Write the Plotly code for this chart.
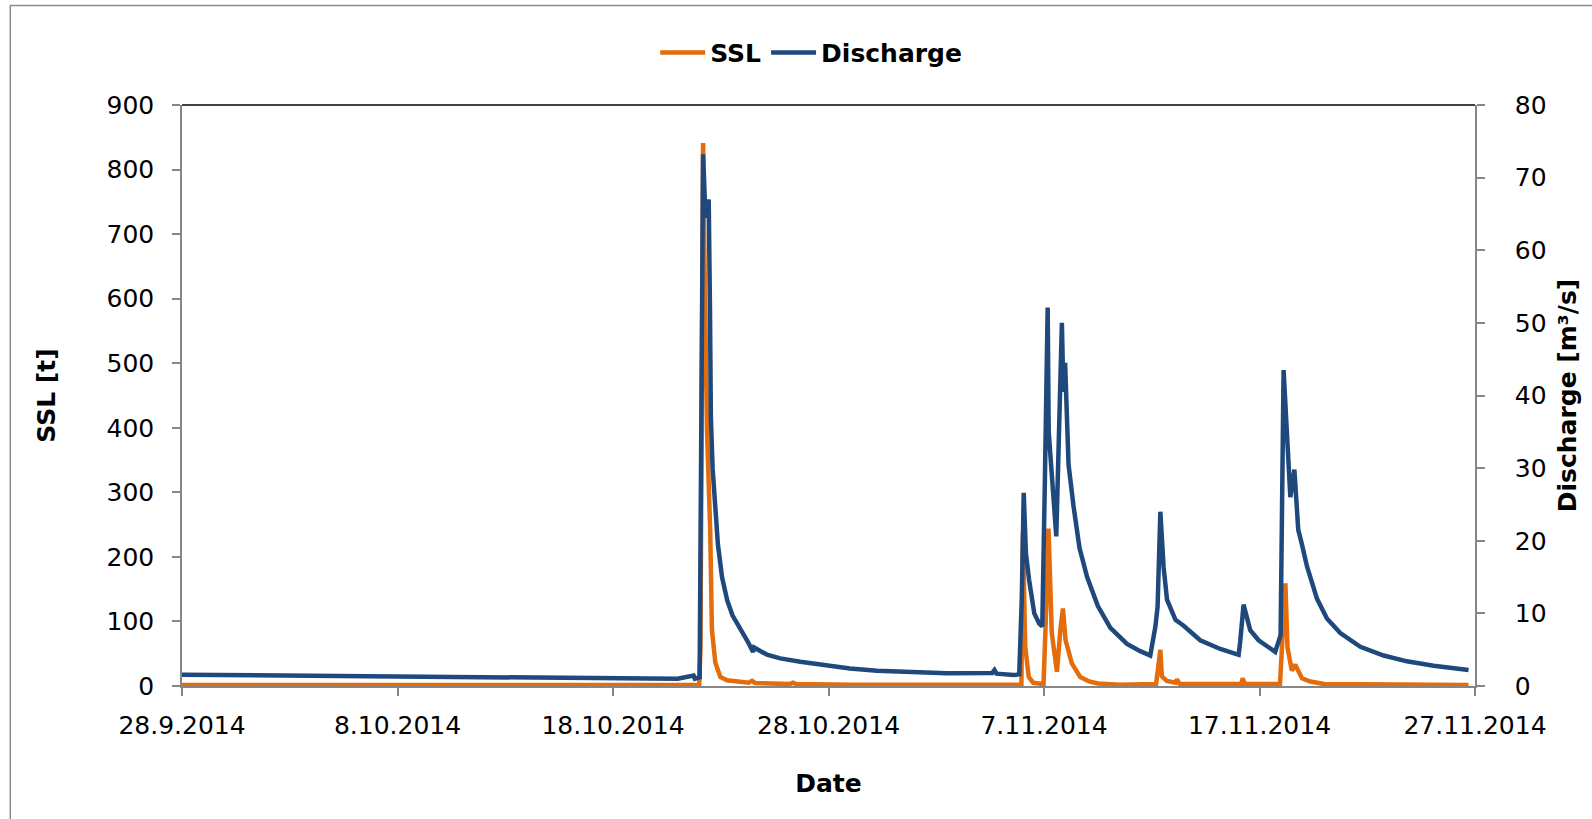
import plotly.graph_objects as go

# ---- Discharge [m3/s] ----
q_dates = [
    "2014-09-28 00:00", "2014-09-30 00:00", "2014-10-03 00:00", "2014-10-06 00:00",
    "2014-10-08 00:00", "2014-10-11 00:00", "2014-10-14 00:00", "2014-10-17 00:00",
    "2014-10-19 00:00", "2014-10-21 00:00", "2014-10-21 17:45", "2014-10-21 19:10",
    "2014-10-22 00:30", "2014-10-22 02:25", "2014-10-22 04:20", "2014-10-22 07:00",
    "2014-10-22 10:35", "2014-10-22 12:00", "2014-10-22 13:00", "2014-10-22 14:55",
    "2014-10-22 17:45", "2014-10-22 20:50", "2014-10-23 01:25", "2014-10-23 07:10",
    "2014-10-23 13:10", "2014-10-23 20:00", "2014-10-24 05:15", "2014-10-24 12:00",
    "2014-10-24 13:10", "2014-10-25 03:35", "2014-10-25 18:15", "2014-10-26 16:35",
    "2014-10-27 18:30", "2014-10-29 00:00", "2014-10-30 06:00", "2014-10-31 07:10",
    "2014-11-02 12:00", "2014-11-04 14:25", "2014-11-04 16:50", "2014-11-04 19:10",
    "2014-11-05 14:25", "2014-11-05 20:25", "2014-11-05 23:15", "2014-11-06 01:25",
    "2014-11-06 03:50", "2014-11-06 07:25", "2014-11-06 13:10", "2014-11-06 18:40",
    "2014-11-06 22:05", "2014-11-07 01:00", "2014-11-07 04:05", "2014-11-07 05:15",
    "2014-11-07 13:40", "2014-11-07 19:55", "2014-11-07 21:35", "2014-11-07 23:30",
    "2014-11-08 03:20", "2014-11-08 08:50", "2014-11-08 15:35", "2014-11-09 00:00",
    "2014-11-09 12:00", "2014-11-10 01:55", "2014-11-10 20:25", "2014-11-11 11:15",
    "2014-11-11 22:20", "2014-11-12 04:05", "2014-11-12 06:30", "2014-11-12 09:35",
    "2014-11-12 13:10", "2014-11-12 17:00", "2014-11-13 02:25", "2014-11-13 11:30",
    "2014-11-14 06:00", "2014-11-15 04:20", "2014-11-16 00:45", "2014-11-16 02:25",
    "2014-11-16 06:15", "2014-11-16 13:40", "2014-11-16 23:00", "2014-11-17 17:30",
    "2014-11-17 23:30", "2014-11-18 02:50", "2014-11-18 06:40", "2014-11-18 10:20",
    "2014-11-18 14:50", "2014-11-18 19:10", "2014-11-18 23:15", "2014-11-19 04:50",
    "2014-11-19 16:05", "2014-11-20 03:05", "2014-11-20 18:00", "2014-11-21 16:20",
    "2014-11-22 18:15", "2014-11-23 20:10", "2014-11-25 01:55", "2014-11-26 16:50",
]
q_values = [
    1.55, 1.5, 1.45, 1.38,
    1.3, 1.25, 1.2, 1.12,
    1.05, 1.0, 1.45, 1.0,
    1.2, 30.0, 73.2, 64.5,
    67.0, 52.0, 37.0, 30.0,
    24.0, 19.5, 15.0, 11.8,
    9.7, 8.3, 6.3, 4.7,
    5.3, 4.3, 3.8, 3.35,
    2.9, 2.4, 2.1, 2.0,
    1.75, 1.8, 2.2, 1.7,
    1.5, 1.6, 12.0, 26.6,
    18.3, 14.6, 10.0, 8.6,
    8.2, 28.4, 52.1, 35.0,
    20.6, 50.0, 40.5, 44.5,
    30.5, 24.8, 19.0, 15.0,
    11.0, 8.0, 5.8, 4.8,
    4.2, 8.2, 10.9, 24.0,
    16.4, 11.9, 9.1, 8.3,
    6.3, 5.1, 4.3, 6.0,
    11.2, 7.7, 6.3, 4.7,
    7.0, 43.5, 33.0, 26.0,
    29.8, 21.5, 19.5, 16.5,
    12.0, 9.3, 7.3, 5.4,
    4.2, 3.4, 2.8, 2.2,
]

# ---- SSL [t] ----
ssl_dates = [
    "2014-09-28 00:00", "2014-10-22 00:00", "2014-10-22 01:25", "2014-10-22 03:05",
    "2014-10-22 04:20", "2014-10-22 05:30", "2014-10-22 06:40", "2014-10-22 08:40",
    "2014-10-22 12:15", "2014-10-22 13:10", "2014-10-22 14:10", "2014-10-22 18:00",
    "2014-10-22 23:30", "2014-10-23 07:00", "2014-10-23 21:50", "2014-10-24 07:10",
    "2014-10-24 10:50", "2014-10-24 14:25", "2014-10-26 04:50", "2014-10-26 08:25",
    "2014-10-26 12:00", "2014-10-29 00:00", "2014-11-05 22:50", "2014-11-06 00:30",
    "2014-11-06 03:05", "2014-11-06 07:00", "2014-11-06 12:00", "2014-11-06 23:30",
    "2014-11-07 02:25", "2014-11-07 05:00", "2014-11-07 08:40", "2014-11-07 14:25",
    "2014-11-07 18:15", "2014-11-07 21:05", "2014-11-08 00:00", "2014-11-08 07:00",
    "2014-11-08 16:20", "2014-11-09 02:25", "2014-11-09 12:00", "2014-11-10 12:00",
    "2014-11-12 04:50", "2014-11-12 07:55", "2014-11-12 09:35", "2014-11-12 11:15",
    "2014-11-12 16:50", "2014-11-13 02:25", "2014-11-13 04:05", "2014-11-13 07:10",
    "2014-11-16 03:35", "2014-11-16 05:15", "2014-11-16 07:40", "2014-11-17 22:50",
    "2014-11-18 01:10", "2014-11-18 04:50", "2014-11-18 07:10", "2014-11-18 10:20",
    "2014-11-18 12:00", "2014-11-18 15:50", "2014-11-18 23:15", "2014-11-19 08:40",
    "2014-11-20 00:00", "2014-11-26 16:50",
]
ssl_values = [
    1.5, 1.5, 60, 600,
    841, 700, 552, 397,
    242, 164, 87, 36,
    14, 9, 7, 5,
    8, 4.5, 3, 5,
    3, 2, 2, 237,
    61, 14, 5, 3,
    120, 244, 82, 22,
    87, 120, 71, 35,
    14, 7, 4, 2,
    3, 35, 56, 15,
    8, 5, 10, 3,
    3, 12, 3, 3,
    60, 159, 60, 30,
    24, 33, 12, 7,
    3, 1.5,
]

series_names = ["SSL", "Discharge"]
x_range = ["2014-09-28", "2014-11-27"]
ssl_range = [0, 900]
q_range = [0, 80]

FONT = "DejaVu Sans"
GRAY = "#868686"
ORANGE = "#E46C0A"
BLUE = "#1F497D"

fig = go.Figure()
fig.add_trace(go.Scatter(x=ssl_dates, y=ssl_values, name="<b>%s</b>" % series_names[0],
                         mode="lines", line=dict(color=ORANGE, width=4.5), yaxis="y"))
fig.add_trace(go.Scatter(x=q_dates, y=q_values, name="<b>%s</b>" % series_names[1],
                         mode="lines", line=dict(color=BLUE, width=4.5), yaxis="y2"))

axis_common = dict(showgrid=False, zeroline=False, showline=True, linecolor=GRAY,
                   linewidth=1.5, ticks="outside", tickcolor=GRAY, ticklen=8, tickwidth=1.5,
                   tickfont=dict(family=FONT, size=25, color="black"))

fig.update_layout(
    width=1592, height=819,
    margin=dict(l=182, r=117, t=105, b=133),
    paper_bgcolor="white", plot_bgcolor="white",
    font=dict(family=FONT, color="black"),
    xaxis=dict(type="date", range=x_range, tick0="2014-09-28", dtick=10 * 86400000,
               tickformat="%-d.%-m.%Y", ticklabelstandoff=8,
               title=dict(text="<b>Date</b>", font=dict(family=FONT, size=25), standoff=36),
               **axis_common),
    yaxis=dict(range=ssl_range, dtick=100, ticklabelstandoff=13,
               title=dict(text="<b>SSL [t]</b>", font=dict(family=FONT, size=25), standoff=44),
               **axis_common),
    yaxis2=dict(range=q_range, dtick=10, overlaying="y", side="right", ticklabelstandoff=25,
                title=dict(text="<b>Discharge [m³/s]</b>", font=dict(family=FONT, size=25), standoff=13),
                **axis_common),
    legend=dict(orientation="h", x=0.4866, xanchor="center", y=1.09, yanchor="middle",
                font=dict(family=FONT, size=25, color="black"), bgcolor="rgba(0,0,0,0)",
                itemwidth=45),
    showlegend=True,
)

# plot-area top border and chart-area outer border
fig.add_shape(type="line", xref="paper", yref="paper", x0=0, x1=1, y0=1, y1=1,
              line=dict(color="black", width=1.5))
fig.add_shape(type="rect", xref="paper", yref="paper", x0=-0.1328, x1=1.2, y0=-0.24, y1=1.1714,
              line=dict(color="#8C8C8C", width=1.5), layer="below")

fig.write_html("out.html")
